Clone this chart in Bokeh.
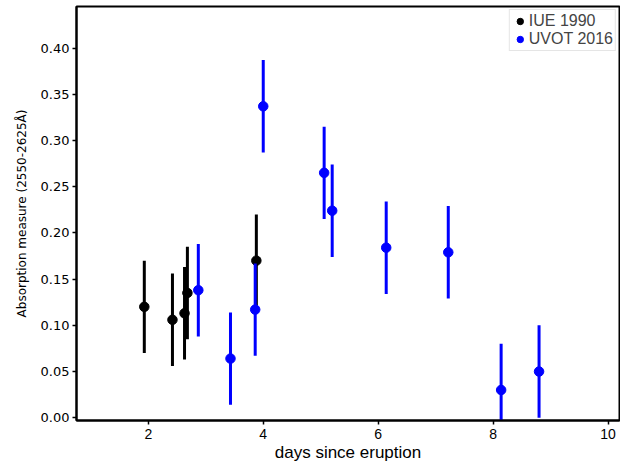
from bokeh.plotting import figure
from bokeh.models import Range1d, FixedTicker, NumeralTickFormatter, Legend, LegendItem, ColumnDataSource
from bokeh.embed import file_html
from bokeh.resources import INLINE

# IUE 1990
iue_days = [1.93, 2.42, 2.63, 2.68, 3.88]
iue_abs = [0.120, 0.106, 0.113, 0.135, 0.170]
iue_err = [0.05, 0.05, 0.05, 0.05, 0.05]

# UVOT 2016
uvot_days = [2.87, 3.43, 3.86, 4.00, 5.06, 5.20, 6.14, 7.22, 8.14, 8.80]
uvot_abs = [0.138, 0.064, 0.117, 0.337, 0.265, 0.224, 0.184, 0.179, 0.030, 0.050]
uvot_err = [0.05, 0.05, 0.05, 0.05, 0.05, 0.05, 0.05, 0.05, 0.05, 0.05]

x_ticks = [2, 4, 6, 8, 10]
y_ticks = [0.0, 0.05, 0.10, 0.15, 0.20, 0.25, 0.30, 0.35, 0.40]

p = figure(width=620, height=464, output_backend="svg", toolbar_location=None,
           x_range=Range1d(0.75, 10.2), y_range=Range1d(-0.003, 0.445),
           min_border_left=76, min_border_right=1, min_border_top=6, min_border_bottom=30)
p.xgrid.visible = False
p.ygrid.visible = False
p.outline_line_color = "black"
p.outline_line_width = 2
p.background_fill_color = "white"
p.border_fill_color = "white"

def src(x, y, e):
    return ColumnDataSource(dict(x=x, y=y, lo=[max(a - b, -0.01) for a, b in zip(y, e)], hi=[a + b for a, b in zip(y, e)]))

s_iue = src(iue_days, iue_abs, iue_err)
s_uvot = src(uvot_days, uvot_abs, uvot_err)

p.segment(x0="x", y0="lo", x1="x", y1="hi", source=s_iue, line_color="black", line_width=3)
r_iue = p.scatter(x="x", y="y", source=s_iue, size=9.5, marker="circle", fill_color="black", line_color="black")
p.segment(x0="x", y0="lo", x1="x", y1="hi", source=s_uvot, line_color="blue", line_width=3)
r_uvot = p.scatter(x="x", y="y", source=s_uvot, size=9.5, marker="circle", fill_color="blue", line_color="blue")

for ax in (p.xaxis[0], p.yaxis[0]):
    ax.axis_line_width = 2
    ax.major_tick_line_width = 1.5
    ax.major_tick_out = 4
    ax.major_tick_in = 0
    ax.minor_tick_line_color = None
    ax.major_label_text_color = "black"
    ax.axis_label_text_font_style = "normal"
    ax.axis_label_text_color = "black"

p.xaxis.ticker = FixedTicker(ticks=x_ticks)
p.yaxis.ticker = FixedTicker(ticks=y_ticks)
p.yaxis.formatter = NumeralTickFormatter(format="0.00")
p.xaxis.major_label_text_font = "Liberation Sans"
p.xaxis.major_label_text_font_size = "14px"
p.xaxis.major_label_standoff = 4
p.yaxis.major_label_text_font = "DejaVu Sans"
p.yaxis.major_label_text_font_size = "13px"
p.yaxis.major_label_standoff = 3
p.xaxis.axis_label = "days since eruption"
p.xaxis.axis_label_text_font = "Liberation Sans"
p.xaxis.axis_label_text_font_size = "17px"
p.xaxis.axis_label_standoff = 1
p.yaxis.axis_label = "Absorption measure (2550-2625Å)"
p.yaxis.axis_label_text_font = "DejaVu Sans"
p.yaxis.axis_label_text_font_size = "12px"
p.yaxis.axis_label_standoff = 9

legend = Legend(items=[LegendItem(label="IUE 1990", renderers=[r_iue]),
                       LegendItem(label="UVOT 2016", renderers=[r_uvot])],
                location="top_right")
legend.label_text_font = "Liberation Sans"
legend.label_text_font_size = "16px"
legend.label_height = 18
legend.glyph_height = 18
legend.glyph_width = 16
legend.label_standoff = 1
legend.spacing = 0
legend.padding = 2
legend.margin = 3
legend.border_line_color = "#cccccc"
legend.border_line_width = 1
legend.background_fill_alpha = 1.0
p.add_layout(legend)

open("out.html", "w").write(file_html(p, INLINE))
